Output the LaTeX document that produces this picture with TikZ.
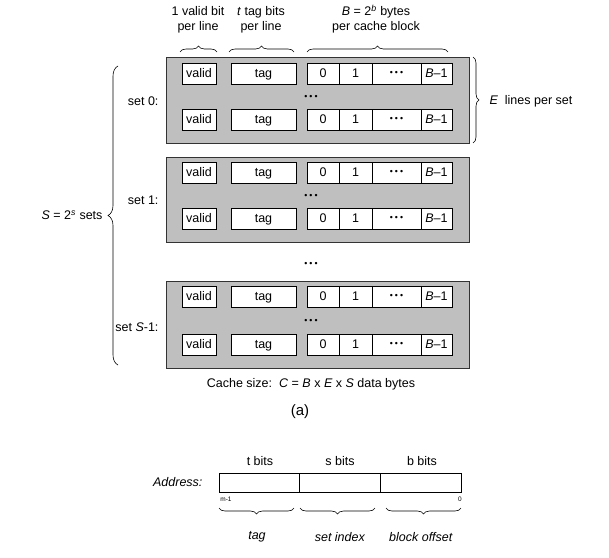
\documentclass[tikz,border=0pt]{standalone}
\usepackage{fontspec}
\setmainfont{Liberation Sans}
\usetikzlibrary{decorations.pathreplacing}
\newcommand{\mydots}{\scalebox{0.7}{\textbullet}\,\scalebox{0.7}{\textbullet}\,\scalebox{0.7}{\textbullet}}
\begin{document}
\begin{tikzpicture}[x=1pt,y=-1pt,
  every node/.style={font=\fontsize{12.5}{14.5}\selectfont},
  setbox/.style={draw=black!80,fill=black!25,line width=0.8pt},
  cell/.style={draw=black,fill=white,line width=0.6pt,minimum height=21pt,inner sep=0pt,text depth=0.25ex},
  br/.style={decorate,decoration={brace,amplitude=6pt},line width=0.6pt}]
\useasboundingbox (0,0) rectangle (609,557);
\foreach \n/\ya/\yb/\ra/\rb in {s0/57/143/74/120, s1/157/242/173/219, s2/281/368/297/345}{
  \draw[setbox] (166,\ya) rectangle (469,\yb);
  \foreach \k/\ry in {a/\ra,b/\rb}{
    \node[cell,minimum width=34pt] (\n\k v) at (199,\ry) {valid};
    \node[cell,minimum width=65pt] (\n\k t) at (263.5,\ry) {tag};
    \node[cell,minimum width=32pt] (\n\k 0) at (323,\ry) {0};
    \node[cell,minimum width=33pt] (\n\k 1) at (355.5,\ry) {1};
    \node[cell,minimum width=49pt] (\n\k d) at (396.5,\ry) {\mydots};
    \node[cell,minimum width=31pt] (\n\k B) at (436.5,\ry) {\textit{B}--1};
  }
  \node (\n m) at (311,{(\ra+\rb)/2}) {\mydots};
}
\node (mid) at (311,264) {\mydots};
\node[anchor=east] (l0) at (162,101) {set 0:};
\node[anchor=east] (l1) at (162,200) {set 1:};
\node[anchor=east] (l2) at (162,327) {set \textit{S}-1:};
\node (tv) at (198,20) {\begin{tabular}{@{}c@{}}1 valid bit\\per line\end{tabular}};
\node (tt) at (261,20) {\begin{tabular}{@{}c@{}}\textit{t} tag bits\\per line\end{tabular}};
\node (tb) at (376,20) {\begin{tabular}{@{}c@{}}\textit{B} = 2\textsuperscript{\textit{b}} bytes\\per cache block\end{tabular}};
\draw[br] (180,52) -- (217,52);
\draw[br] (229,52) -- (294,52);
\draw[br] (307,52) -- (448,52);
\draw[br] (473,57) -- (473,143);
\node[anchor=west] (E) at (486,101) {\textit{E}~~lines per set};
\draw[br,decoration={amplitude=10pt}] (118,365) -- (118,66);
\node[anchor=east] (S) at (106,215) {\textit{S} = 2\textsuperscript{\textit{s}} sets};
\node (cs) at (311,384) {Cache size:~~\textit{C} = \textit{B} x \textit{E} x \textit{S} data bytes};
\node[font=\rmfamily\fontsize{15}{17}\selectfont] (a) at (300,412) {(a)};
% address
\draw[line width=0.6pt] (219,473) rectangle (461,492);
\draw[line width=0.6pt] (299,473) -- (299,492) (380,473) -- (380,492);
\node[anchor=east] (ad) at (206,482) {\textit{Address:}};
\node (bt) at (260,461) {t bits};
\node (bs) at (340,461) {s bits};
\node (bb) at (422,461) {b bits};
\node[font=\fontsize{6.5}{7}\selectfont] (m1) at (226,499) {m-1};
\node[font=\fontsize{6.5}{7}\selectfont] (z) at (460,499) {0};
\draw[br,decoration={mirror}] (219,508) -- (294,508);
\draw[br,decoration={mirror}] (300,508) -- (375,508);
\draw[br,decoration={mirror}] (386,508) -- (461,508);
\node (ltag) at (257,537) {\textit{tag}};
\node (lset) at (340,537) {\textit{set index}};
\node (lbo) at (421,537) {\textit{block offset}};
\end{tikzpicture}
\end{document}
